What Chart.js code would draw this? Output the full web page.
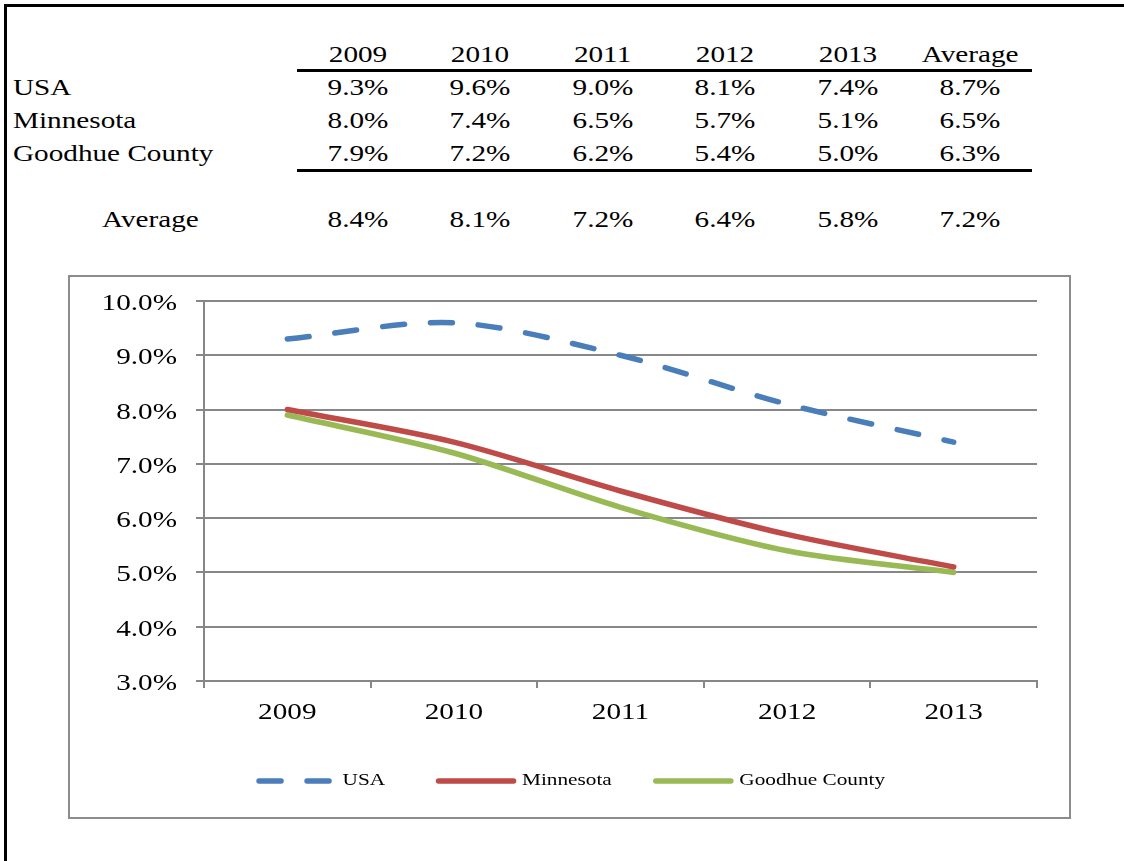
<!DOCTYPE html>
<html>
<head>
<meta charset="utf-8">
<script src="https://cdn.jsdelivr.net/npm/chart.js@4.4.0/dist/chart.umd.min.js"></script>
<style>
body { margin: 0; background: #fff; font-family: "Liberation Serif", "Times New Roman", serif; }
#page { position: relative; width: 1124px; height: 861px; overflow: hidden; background: #fff; }
#frame { position: absolute; left: 4px; top: 4px; width: 1120px; height: 857px; border-left: 3px solid #000; border-top: 3px solid #000; box-sizing: border-box; }
.cell { position: absolute; height: 32px; line-height: 32px; font-size: 23px; white-space: nowrap; color: #000; }
.cell span { display: inline-block; transform: scaleX(1.27); transform-origin: left center; }
.num { width: 122px; text-align: center; }
.num span { transform-origin: center center; }
.rule { position: absolute; left: 297px; width: 735px; height: 3px; background: #000; }
#box { position: absolute; left: 68px; top: 275px; width: 1003px; height: 544px; border: 2px solid #8c8c8c; box-sizing: border-box; }
#box canvas { display: block; }
</style>
</head>
<body>
<div id="page">
  <div id="frame"></div>
  <div id="table"></div>
  <div class="rule" style="top:69px"></div>
  <div class="rule" style="top:169px"></div>
  <div id="box"><canvas id="rateChart" width="999" height="540"></canvas></div>
</div>
<script>
var years = ["2009", "2010", "2011", "2012", "2013"];
var usa = [9.3, 9.6, 9.0, 8.1, 7.4];
var minnesota = [8.0, 7.4, 6.5, 5.7, 5.1];
var goodhue = [7.9, 7.2, 6.2, 5.4, 5.0];
var rowAverages = [8.7, 6.5, 6.3];
var yearAverages = [8.4, 8.1, 7.2, 6.4, 5.8];
var overallAverage = 7.2;

function pct(v) { return v.toFixed(1) + '%'; }

// table above the chart
function renderTable() {
    var table = document.getElementById("table");
    var html = "";
    var colCenter = function (i) { return 358 + i * 122.4; };
    function addCell(text, left, top, cls) {
        html += '<div class="cell ' + (cls || '') + '" style="left:' + left + 'px;top:' + top + 'px"><span>' + text + '</span></div>';
    }
    var headers = years.concat(["Average"]);
    for (var i = 0; i < headers.length; i++) {
        addCell(headers[i], colCenter(i) - 61, 39, 'num');
    }
    var rows = [["USA", usa], ["Minnesota", minnesota], ["Goodhue County", goodhue]];
    var tops = [72, 105, 138];
    for (var r = 0; r < rows.length; r++) {
        addCell(rows[r][0], 13, tops[r]);
        var vals = rows[r][1].concat([rowAverages[r]]);
        for (var j = 0; j < vals.length; j++) {
            addCell(pct(vals[j]), colCenter(j) - 61, tops[r], 'num');
        }
    }
    addCell("Average", 102, 204);
    var avgs = yearAverages.concat([overallAverage]);
    for (var k = 0; k < avgs.length; k++) {
        addCell(pct(avgs[k]), colCenter(k) - 61, 204, 'num');
    }
    table.innerHTML = html;
}
renderTable();

var axisColor = '#878787';
var serif = '"Liberation Serif", "Times New Roman", serif';

// text in the original is stretched wide, so labels are drawn with a horizontal scale
function wideText(ctx, text, x, y, size, stretch, align) {
    ctx.save();
    ctx.font = size + 'px ' + serif;
    ctx.fillStyle = '#000';
    ctx.textAlign = align;
    ctx.textBaseline = 'middle';
    ctx.translate(x, y);
    ctx.scale(stretch, 1);
    ctx.fillText(text, 0, 0);
    ctx.restore();
}

var wideLabels = {
    id: 'wideLabels',
    afterDraw: function (chart) {
        var ctx = chart.ctx;
        var yScale = chart.scales.y;
        yScale.ticks.forEach(function (t, i) {
            wideText(ctx, pct(t.value), yScale.right - 27, yScale.getPixelForTick(i) + 3, 23, 1.27, 'right');
        });
        var xScale = chart.scales.x;
        xScale.ticks.forEach(function (t, i) {
            wideText(ctx, chart.data.labels[t.value], xScale.getPixelForTick(i), xScale.top + 32, 23, 1.27, 'center');
        });
        var legend = chart.legend;
        legend.legendItems.forEach(function (item, i) {
            var box = legend.legendHitBoxes[i];
            wideText(ctx, item.text, box.left + 75 + 8.5, box.top + 8.5, 17, 1.25, 'left');
        });
    }
};

var rateData = {
    labels: years,
    datasets: [
        {
            label: "USA",
            data: usa,
            borderColor: "#4A7EBB",
            backgroundColor: "#4A7EBB",
            borderWidth: 5.5,
            borderDash: [22, 26],
            borderCapStyle: 'round',
            tension: 0.3,
            pointRadius: 0,
            fill: false
        },
        {
            label: "Minnesota",
            data: minnesota,
            borderColor: "#BE4B48",
            backgroundColor: "#BE4B48",
            borderWidth: 5.5,
            borderCapStyle: 'round',
            tension: 0.3,
            pointRadius: 0,
            fill: false
        },
        {
            label: "Goodhue County",
            data: goodhue,
            borderColor: "#98B954",
            backgroundColor: "#98B954",
            borderWidth: 5.5,
            borderCapStyle: 'round',
            tension: 0.3,
            pointRadius: 0,
            fill: false
        }
    ]
};

var rateChart = new Chart(document.getElementById("rateChart"), {
    type: 'line',
    data: rateData,
    plugins: [wideLabels],
    options: {
        responsive: false,
        animation: false,
        devicePixelRatio: 1,
        layout: { padding: { top: 24, left: 0, right: 24, bottom: 17.5 } },
        plugins: {
            legend: {
                position: 'bottom',
                labels: {
                    usePointStyle: true,
                    pointStyle: 'line',
                    pointStyleWidth: 75,
                    padding: 62,
                    color: 'rgba(0,0,0,0)',
                    font: { family: serif, size: 17 },
                    generateLabels: function (chart) {
                        var items = Chart.defaults.plugins.legend.labels.generateLabels(chart);
                        items.forEach(function (item) {
                            var ds = chart.data.datasets[item.datasetIndex];
                            item.lineDash = ds.borderDash || [];
                            item.lineCap = 'round';
                            item.lineWidth = ds.borderWidth;
                            item.strokeStyle = ds.borderColor;
                            item.fontColor = 'rgba(0,0,0,0)';
                            item.pointStyle = 'line';
                        });
                        return items;
                    }
                }
            },
            tooltip: { enabled: false }
        },
        scales: {
            x: {
                offset: true,
                grid: { offset: true, drawOnChartArea: false, drawTicks: true, tickLength: 7, color: axisColor, lineWidth: 2 },
                border: { color: axisColor, width: 2 },
                ticks: { display: false },
                afterFit: function (scale) { scale.height = 29.5; }
            },
            y: {
                min: 3,
                max: 10,
                grid: { color: axisColor, lineWidth: 2, tickLength: 8 },
                border: { color: axisColor, width: 2 },
                ticks: { stepSize: 1, display: false },
                afterFit: function (scale) { scale.width = 134; }
            },
            yRight: {
                position: 'right',
                grid: { display: false },
                border: { display: false },
                ticks: { display: false },
                afterFit: function (scale) { scale.width = 8; }
            }
        }
    }
});
</script>
</body>
</html>
